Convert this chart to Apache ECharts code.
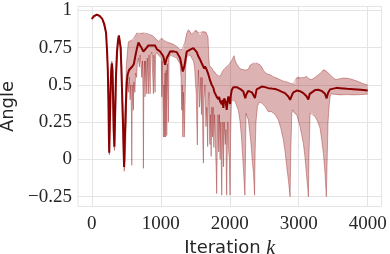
<!DOCTYPE html>
<html><head><meta charset="utf-8">
<script src="https://cdn.jsdelivr.net/npm/echarts@6/dist/echarts.min.js"></script>
<style>html,body{margin:0;padding:0;background:#fff}#c{width:390px;height:254px}</style>
</head><body><div id="c"></div>
<script>
// Mean angle per iteration [k, value]
const meanData = [[0,0.942],[30,0.962],[72,0.971],[110,0.965],[150,0.945],[180,0.91],[207,0.848],[222,0.72],[232,0.60],[241,0.40],[248,0.15],[253,0.045],[260,0.2],[270,0.45],[282,0.60],[292,0.645],[300,0.60],[310,0.40],[318,0.2],[328,0.085],[338,0.3],[350,0.55],[365,0.72],[380,0.80],[392,0.83],[405,0.825],[418,0.75],[430,0.6],[444,0.38],[455,0.2],[468,-0.05],[480,0.15],[495,0.38],[507,0.52],[520,0.57],[540,0.60],[560,0.61],[590,0.625],[610,0.64],[630,0.69],[652,0.74],[676,0.785],[700,0.792],[725,0.745],[748,0.724],[772,0.735],[797,0.75],[820,0.765],[845,0.77],[870,0.765],[893,0.758],[917,0.765],[942,0.74],[965,0.735],[990,0.724],[1014,0.713],[1038,0.69],[1062,0.635],[1087,0.68],[1110,0.70],[1135,0.724],[1160,0.73],[1183,0.725],[1207,0.73],[1232,0.72],[1255,0.70],[1280,0.68],[1304,0.624],[1319,0.59],[1342,0.624],[1377,0.724],[1400,0.735],[1425,0.736],[1449,0.73],[1473,0.747],[1500,0.736],[1522,0.72],[1546,0.69],[1570,0.67],[1582,0.675],[1594,0.645],[1618,0.64],[1630,0.61],[1642,0.624],[1667,0.60],[1680,0.60],[1690,0.57],[1705,0.56],[1715,0.53],[1725,0.535],[1739,0.50],[1750,0.49],[1763,0.48],[1775,0.455],[1787,0.445],[1800,0.45],[1811,0.42],[1822,0.43],[1835,0.405],[1847,0.42],[1859,0.39],[1872,0.40],[1884,0.37],[1895,0.40],[1907,0.345],[1920,0.41],[1932,0.422],[1944,0.38],[1956,0.333],[1968,0.39],[1980,0.422],[1992,0.40],[2004,0.372],[2016,0.43],[2029,0.465],[2053,0.485],[2077,0.492],[2101,0.485],[2125,0.478],[2160,0.47],[2197,0.456],[2212,0.43],[2225,0.41],[2240,0.435],[2270,0.46],[2294,0.467],[2320,0.45],[2342,0.433],[2365,0.411],[2390,0.47],[2414,0.482],[2464,0.489],[2512,0.485],[2560,0.478],[2609,0.475],[2657,0.472],[2705,0.465],[2750,0.455],[2801,0.445],[2849,0.422],[2875,0.40],[2888,0.393],[2905,0.435],[2922,0.45],[2971,0.462],[3019,0.458],[3067,0.445],[3110,0.425],[3139,0.402],[3160,0.44],[3188,0.452],[3236,0.465],[3284,0.467],[3330,0.46],[3357,0.455],[3381,0.44],[3405,0.41],[3425,0.445],[3454,0.47],[3478,0.478],[3550,0.48],[3599,0.478],[3700,0.474],[3791,0.471],[3900,0.467],[4000,0.462]];

// Upper envelope [k, value]
const upperData = [[0,0.945],[72,0.975],[150,0.948],[207,0.852],[232,0.62],[245,0.35],[253,0.1],[265,0.5],[280,0.64],[292,0.66],[305,0.6],[318,0.3],[328,0.15],[345,0.55],[365,0.73],[385,0.82],[395,0.835],[410,0.83],[425,0.75],[444,0.42],[460,0.2],[470,0.05],[485,0.35],[500,0.62],[520,0.74],[531,0.79],[555,0.795],[580,0.80],[603,0.805],[630,0.83],[652,0.848],[676,0.84],[700,0.845],[748,0.848],[770,0.842],[797,0.845],[820,0.838],[845,0.837],[880,0.83],[917,0.814],[940,0.805],[965,0.792],[990,0.80],[1014,0.814],[1040,0.80],[1062,0.792],[1100,0.785],[1135,0.781],[1160,0.778],[1183,0.772],[1210,0.765],[1232,0.758],[1255,0.748],[1280,0.736],[1310,0.738],[1330,0.745],[1352,0.79],[1377,0.848],[1400,0.87],[1425,0.86],[1449,0.84],[1473,0.848],[1497,0.865],[1522,0.87],[1546,0.848],[1570,0.837],[1594,0.855],[1618,0.86],[1650,0.855],[1667,0.848],[1685,0.82],[1695,0.70],[1705,0.63],[1739,0.613],[1763,0.595],[1787,0.585],[1811,0.568],[1835,0.56],[1859,0.557],[1884,0.58],[1907,0.60],[1932,0.61],[1956,0.624],[1980,0.63],[2004,0.646],[2029,0.665],[2043,0.675],[2062,0.696],[2080,0.66],[2101,0.64],[2125,0.625],[2149,0.608],[2197,0.602],[2240,0.60],[2270,0.605],[2294,0.632],[2319,0.638],[2342,0.645],[2365,0.64],[2391,0.646],[2414,0.64],[2439,0.635],[2464,0.62],[2490,0.595],[2512,0.585],[2536,0.575],[2584,0.568],[2630,0.555],[2681,0.546],[2730,0.535],[2780,0.525],[2826,0.52],[2880,0.51],[2922,0.505],[2950,0.51],[2965,0.545],[2985,0.557],[3019,0.548],[3043,0.546],[3080,0.55],[3116,0.557],[3150,0.54],[3188,0.536],[3236,0.55],[3284,0.568],[3330,0.585],[3357,0.602],[3381,0.60],[3405,0.59],[3430,0.58],[3454,0.568],[3478,0.557],[3520,0.54],[3551,0.537],[3600,0.542],[3646,0.546],[3700,0.545],[3750,0.54],[3791,0.534],[3850,0.525],[3913,0.512],[3960,0.505],[4000,0.50]];

// Lower envelope [k, value]
const lowerData = [[0,0.94],[72,0.968],[150,0.942],[207,0.845],[232,0.58],[241,0.3],[248,0.05],[255,0.03],[262,0.25],[272,0.3],[282,0.45],[292,0.5],[302,0.35],[315,0.1],[330,0.06],[345,0.3],[360,0.6],[380,0.76],[395,0.8],[410,0.78],[425,0.6],[440,0.3],[455,0.05],[470,-0.08],[485,0.0],[500,0.25],[507,0.45],[520,0.52],[535,0.45],[545,0.55],[555,0.40],[565,0.50],[575,0.30],[580,-0.04],[585,0.30],[595,0.50],[603,0.33],[610,0.52],[625,0.45],[635,0.58],[650,0.55],[660,0.64],[676,0.68],[690,0.62],[700,0.70],[715,0.62],[725,0.55],[735,0.66],[742,0.45],[748,-0.06],[754,0.45],[765,0.66],[772,0.42],[780,0.66],[797,0.44],[805,0.68],[820,0.44],[830,0.70],[845,0.44],[855,0.70],[870,0.72],[893,0.44],[900,0.70],[917,0.45],[925,0.70],[945,0.72],[965,0.70],[990,0.69],[1008,0.68],[1014,0.42],[1020,0.66],[1030,0.40],[1038,0.15],[1046,0.50],[1055,0.15],[1062,0.58],[1070,0.15],[1078,0.60],[1087,0.16],[1095,0.64],[1110,0.25],[1120,0.68],[1135,0.70],[1160,0.70],[1183,0.69],[1207,0.69],[1232,0.68],[1255,0.66],[1280,0.64],[1295,0.55],[1304,0.33],[1312,0.50],[1320,0.15],[1328,0.45],[1340,0.15],[1350,0.33],[1362,0.62],[1377,0.69],[1400,0.70],[1425,0.70],[1449,0.68],[1473,0.66],[1490,0.62],[1505,0.50],[1515,0.44],[1522,0.25],[1530,0.097],[1538,0.45],[1546,0.60],[1560,0.35],[1570,0.40],[1580,0.55],[1590,0.30],[1600,0.55],[1610,0.10],[1618,-0.025],[1626,0.40],[1640,0.50],[1655,0.22],[1667,0.35],[1680,0.086],[1690,0.40],[1700,0.45],[1712,0.10],[1720,0.30],[1730,0.02],[1740,0.35],[1750,0.15],[1760,0.35],[1770,0.08],[1780,0.30],[1795,0.05],[1805,-0.10],[1811,-0.23],[1818,0.05],[1830,0.30],[1840,0.05],[1850,0.30],[1860,0.0],[1870,0.25],[1878,-0.05],[1884,-0.24],[1890,0.0],[1900,0.25],[1910,-0.05],[1920,0.25],[1935,0.10],[1945,0.20],[1950,-0.10],[1956,-0.24],[1962,0.0],[1972,0.25],[1985,0.05],[1995,0.0],[2004,-0.24],[2012,0.15],[2022,0.35],[2029,0.40],[2053,0.40],[2077,0.39],[2100,0.36],[2125,0.33],[2150,0.25],[2170,0.15],[2190,0.0],[2205,-0.12],[2220,-0.24],[2228,0.0],[2236,0.31],[2250,0.29],[2270,0.265],[2290,0.18],[2305,0.12],[2325,0.0],[2345,-0.10],[2360,-0.24],[2368,0.05],[2380,0.25],[2401,0.355],[2430,0.385],[2464,0.378],[2512,0.355],[2560,0.32],[2609,0.32],[2660,0.30],[2705,0.265],[2740,0.21],[2777,0.131],[2800,0.06],[2826,-0.048],[2850,-0.14],[2875,-0.25],[2885,0.05],[2900,0.31],[2913,0.333],[2940,0.31],[2971,0.30],[3000,0.25],[3019,0.22],[3045,0.16],[3067,0.109],[3090,0.02],[3110,-0.09],[3130,-0.19],[3140,-0.25],[3150,0.05],[3165,0.31],[3190,0.31],[3236,0.288],[3270,0.26],[3309,0.21],[3333,0.131],[3357,0.042],[3381,-0.093],[3400,-0.25],[3410,-0.05],[3425,0.25],[3439,0.35],[3455,0.42],[3465,0.44],[3500,0.438],[3599,0.433],[3700,0.435],[3791,0.433],[3900,0.435],[4000,0.438]];

const xTicks = [0, 1000, 2000, 3000, 4000];
const yTicks = [-0.25, 0, 0.25, 0.5, 0.75, 1];
const yTickLabels = ['\u22120.25', '0', '0.25', '0.5', '0.75', '1'];

const chart = echarts.init(document.getElementById('c'), null, {renderer: 'canvas'});
const tickFont = {fontFamily: 'Liberation Serif', fontSize: 19, color: '#262626'};
chart.setOption({
  animation: false,
  grid: {left: 78, top: 6.5, width: 303.5, height: 200, show: true, borderColor: '#e4e4e4', borderWidth: 1,
    containLabel: false, outerBoundsMode: 'none'},
  xAxis: {
    type: 'value', min: -200, max: 4200,
    name: 'Iteration {k|k}', nameLocation: 'middle', nameGap: 22,
    nameTextStyle: {fontFamily: 'DejaVu Sans', fontSize: 18, color: '#262626',
      rich: {k: {fontFamily: 'Liberation Serif', fontStyle: 'italic', fontSize: 20, color: '#262626'}}},
    axisLine: {show: false}, axisTick: {show: false, customValues: xTicks},
    axisLabel: Object.assign({customValues: xTicks, margin: 8, formatter: function (v) { return String(v); }}, tickFont),
    splitLine: {show: true, lineStyle: {color: '#e4e4e4', width: 1}}
  },
  yAxis: {
    type: 'value', min: -0.316, max: 1.026,
    name: 'Angle', nameLocation: 'middle', nameGap: 54, nameRotate: 90,
    nameTextStyle: {fontFamily: 'DejaVu Sans', fontSize: 18, color: '#262626'},
    axisLine: {show: false}, axisTick: {show: false, customValues: yTicks},
    axisLabel: Object.assign({customValues: yTicks, margin: 6,
      formatter: function (v) { const i = yTicks.findIndex(t => Math.abs(t - v) < 1e-9); return i >= 0 ? yTickLabels[i] : ''; }}, tickFont),
    splitLine: {show: true, lineStyle: {color: '#e4e4e4', width: 1}}
  },
  series: [
    {
      type: 'custom', silent: true, clip: true, z: 1,
      data: [[0, 0]],
      renderItem: function (params, api) {
        const pts = [];
        for (const p of upperData) pts.push(api.coord(p));
        for (let i = lowerData.length - 1; i >= 0; i--) pts.push(api.coord(lowerData[i]));
        return {type: 'polygon', shape: {points: pts}, style: {fill: 'rgba(139,0,0,0.3)', stroke: null}};
      }
    },
    {type: 'line', data: upperData, showSymbol: false, silent: true, z: 2,
      lineStyle: {color: 'rgba(139,0,0,0.38)', width: 0.9}},
    {type: 'line', data: lowerData, showSymbol: false, silent: true, z: 2,
      lineStyle: {color: 'rgba(139,0,0,0.38)', width: 0.9}},
    {type: 'line', data: meanData, showSymbol: false, silent: true, z: 3,
      lineStyle: {color: '#8b0000', width: 2}}
  ]
});
</script></body></html>
